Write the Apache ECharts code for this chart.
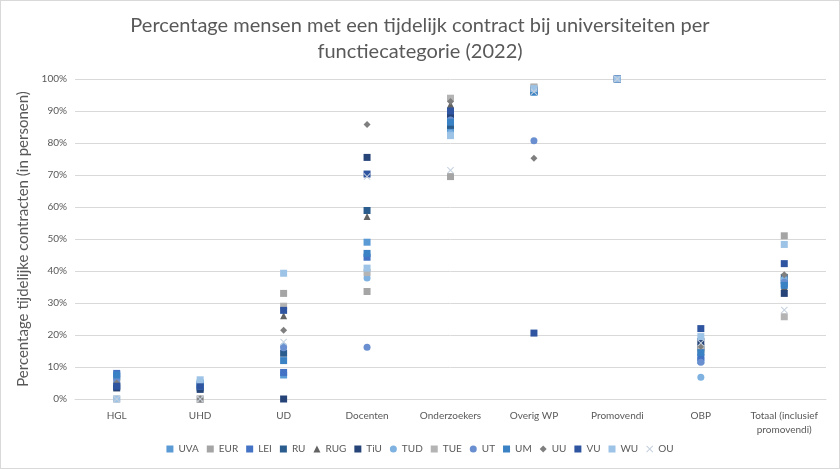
<!DOCTYPE html>
<html>
<head>
<meta charset="utf-8">
<script src="https://cdn.jsdelivr.net/npm/echarts@6/dist/echarts.min.js"></script>
<style>
html,body{margin:0;padding:0;background:#fff;}
#c{width:838px;height:467px;border:1px solid #d9d9d9;}
</style>
</head>
<body>
<div id="c"></div>
<script>
const categories = ['HGL','UHD','UD','Docenten','Onderzoekers','Overig WP','Promovendi','OBP','Totaal (inclusief\npromovendi)'];
const seriesNames = ['UVA','EUR','LEI','RU','RUG','TiU','TUD','TUE','UT','UM','UU','VU','WU','OU'];
const UVA = [7, 5, 7.5, 49, 84, 96, 100, 12, 37];
const EUR = [6, 0, 33, 33.6, 69.5, 97.5, 100, 15, 51];
const LEI = [8, 4.5, 8.3, 44.3, 88.5, 96.5, 100, 13, 36];
const RU  = [4, 3.5, 14.3, 58.9, 85.5, 96, 100, 16, 38];
const RUG = [3.5, 0, 26, 57, 92, 97, 100, 17, 35];
const TiU = [3.5, 3, 0, 75.5, 89, 96.5, 100, 18, 33];
const TUD = [5, 5.5, 16.5, 37.8, 83, 95.8, 100, 6.8, 37.5];
const TUE = [0, 0, 29, 39.5, 94, 97.3, 100, 15.5, 25.7];
const UT  = [6, 4, 16, 16.2, 87.2, 80.7, 100, 11.5, 36.5];
const UM  = [7.5, 4, 12, 45.5, 86.5, 96, 100, 14.5, 35.5];
const UU  = [5, 0, 21.5, 85.8, 93, 75.2, 100, 16.5, 38.8];
const VU  = [4, 4, 27.7, 70.3, 90, 20.6, 100, 22, 42.3];
const WU  = [0, 6, 39.3, 40.9, 82.3, 97, 100, 19.5, 48.3];
const OU  = [0, 0, 17.8, 69.5, 71.5, 96, 100, 17.5, 27.8];
const values = [UVA, EUR, LEI, RU, RUG, TiU, TUD, TUE, UT, UM, UU, VU, WU, OU];
const yTicks = [0,10,20,30,40,50,60,70,80,90,100];

const xPath = 'path://M0,1 L1,0 L5,4 L9,0 L10,1 L6,5 L10,9 L9,10 L5,6 L1,10 L0,9 L4,5 Z';
const styles = {
  UVA:{c:'#5B9BD5',s:'rect'}, EUR:{c:'#A5A5A5',s:'rect'}, LEI:{c:'#4472C4',s:'rect'},
  RU:{c:'#2B5C8E',s:'rect'}, RUG:{c:'#636363',s:'triangle'}, TiU:{c:'#264478',s:'rect'},
  TUD:{c:'#7FB2E0',s:'circle'}, TUE:{c:'#B4B4B4',s:'rect'}, UT:{c:'#6A8FD0',s:'circle'},
  UM:{c:'#3A82C4',s:'rect'}, UU:{c:'#7F7F7F',s:'diamond'}, VU:{c:'#2F55A0',s:'rect'},
  WU:{c:'#9DC3E6',s:'rect'}, OU:{c:'#C5D0DE',s:xPath}
};
const font = 'Lato, "Open Sans", sans-serif';
const chart = echarts.init(document.getElementById('c'));
chart.setOption({
  animation:false,
  textStyle:{fontFamily:font},
  title:{
    text:'Percentage mensen met een tijdelijk contract bij universiteiten per\nfunctiecategorie (2022)',
    left:'center', top:7,
    textStyle:{fontSize:20, fontWeight:'normal', color:'#595959', lineHeight:26, fontFamily:font}
  },
  legend:{
    bottom:9, left:'center', itemWidth:7, itemHeight:7, itemGap:8,
    textStyle:{fontSize:10, color:'#595959', fontFamily:font},
    data:seriesNames.map(n=>({name:n, icon:styles[n].s}))
  },
  grid:{left:74, right:13, top:78, bottom:69, containLabel:false},
  xAxis:{
    type:'category', data:categories,
    axisLine:{lineStyle:{color:'#d9d9d9'}},
    axisTick:{show:false},
    axisLabel:{fontSize:10, color:'#595959', margin:10, interval:0, lineHeight:14, fontFamily:font}
  },
  yAxis:{
    type:'value', min:0, max:100, interval:10,
    name:'Percentage tijdelijke contracten (in personen)',
    nameLocation:'middle', nameGap:38,
    nameTextStyle:{fontSize:15, color:'#595959', fontFamily:font},
    axisLine:{show:false}, axisTick:{show:false},
    splitLine:{lineStyle:{color:'#d9d9d9'}},
    axisLabel:{fontSize:10, color:'#595959', formatter:v=>v+'%', margin:8, fontFamily:font}
  },
  series:seriesNames.map((n,i)=>({
    name:n, type:'scatter', symbol:styles[n].s,
    symbolSize:7,
    itemStyle:{color:styles[n].c, opacity:1},
    data:values[i]
  }))
});
</script>
</body>
</html>
